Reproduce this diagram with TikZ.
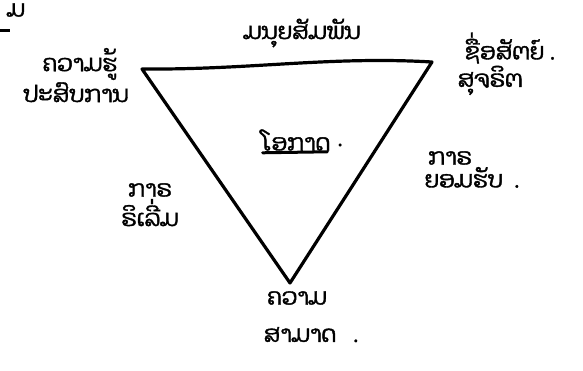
\documentclass[tikz,border=0pt]{standalone}
\usepackage{fontspec}
\newfontfamily\laofont[Script=Lao,FakeBold=1.6]{Dhyana}
\usetikzlibrary{positioning,calc}

\begin{document}
\begin{tikzpicture}[x=1pt,y=-1pt,
    lb/.style={font=\laofont\fontsize{23}{26}\selectfont,inner sep=1pt},
    edge/.style={line width=3.2pt,line cap=round,line join=round},
    node distance=2pt]
    \useasboundingbox (0,0) rectangle (583,371);
    % corners of the triangle
    \coordinate (tl) at (142,69);
    \coordinate (tr) at (432,62);
    \coordinate (bt) at (290,283);
    \draw[edge] (tl) .. controls (250,70) and (330,56) .. (tr) -- (bt) -- cycle;
    % labels
    \node[lb] (m) at (16,10) {ມ};
    \coordinate (d1) at (0,31); \coordinate (d2) at (10,31);
    \draw[line width=3pt] (d1) -- (d2);
    \node[lb] (k1) at (80,64) {ຄວາມຮູ້};
    \node[lb,below=0pt of k1,xshift=-4pt] (k2) {ປະສົບການ};
    \node[lb] (top) at (302,33) {ມນຸຍສັມພັນ};
    \node[lb] (s1) at (510,48) {ຊື່ອສັຕຍ໌ .};
    \node[lb,below=0pt of s1,xshift=-20pt] (s2) {ສຸຈຣິຕ};
    \node[lb] (ok) at (296,140) {ໂອກາດ};
    \node[lb,right=5pt of ok,yshift=-5pt] (okdot) {.};
    \coordinate (u1) at ($(ok.south west)+(2,1)$);
    \coordinate (u2) at ($(ok.south east)+(-4,0)$);
    \draw[line width=3pt,line cap=round] (u1) -- (u2);
    \node[lb] (l1) at (150,190) {ກາຣ};
    \node[lb,below=0pt of l1] (l2) {ຣິເລີ່ມ};
    \node[lb] (r1) at (450,158) {ກາຣ};
    \node[lb,below=0pt of r1,xshift=22pt] (r2) {ຍອມຮັບ \ .};
    \node[lb] (b1) at (297,298) {ຄວາມ};
    \node[lb,below=20pt of b1,xshift=14pt] (b2) {ສາມາດ \ \ .};
  \end{tikzpicture}
\end{document}
